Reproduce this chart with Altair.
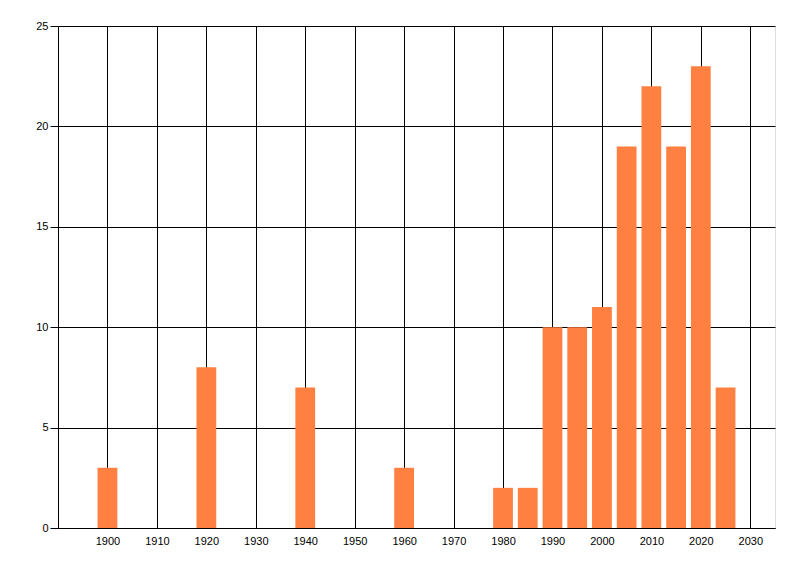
import altair as alt
import pandas as pd

years = [1900, 1920, 1940, 1960, 1980, 1985, 1990, 1995, 2000, 2005, 2010, 2015, 2020, 2025]
counts = [3, 8, 7, 3, 2, 2, 10, 10, 11, 19, 22, 19, 23, 7]
x_ticks = list(range(1900, 2031, 10))
y_ticks = [0, 5, 10, 15, 20, 25]

df = pd.DataFrame({"year": years, "count": counts})

font = "Liberation Sans"

chart = alt.Chart(df).transform_calculate(
    x0="datum.year - 2", x1="datum.year + 2"
).mark_bar(color="#FF8040").encode(
    x=alt.X("x0:Q", scale=alt.Scale(domain=[1890, 2035], nice=False, zero=False),
            axis=alt.Axis(values=x_ticks, format="d", title=None, ticks=False,
                          labelPadding=7, grid=True, gridColor="black", gridOpacity=1,
                          gridWidth=1, domainColor="black", domainWidth=1,
                          labelColor="black", labelFont=font, labelFontSize=11)),
    x2="x1:Q",
    y=alt.Y("count:Q", scale=alt.Scale(domain=[0, 25], nice=False),
            axis=alt.Axis(values=y_ticks, title=None, ticks=True, tickSize=8,
                          tickColor="black", tickWidth=1, labelPadding=2,
                          grid=True, gridColor="black", gridOpacity=1, gridWidth=1,
                          domainColor="black", domainWidth=1, labelColor="black",
                          labelFont=font, labelFontSize=11)),
    y2=alt.datum(0),
).properties(
    width=717, height=502,
    autosize=alt.AutoSizeParams(type="none"),
    padding={"left": 50, "top": 18, "right": 10, "bottom": 40},
).configure_view(stroke="transparent", strokeWidth=0).configure(background="white")

chart.save("out.html", embed_options={"renderer": "svg", "actions": False})
